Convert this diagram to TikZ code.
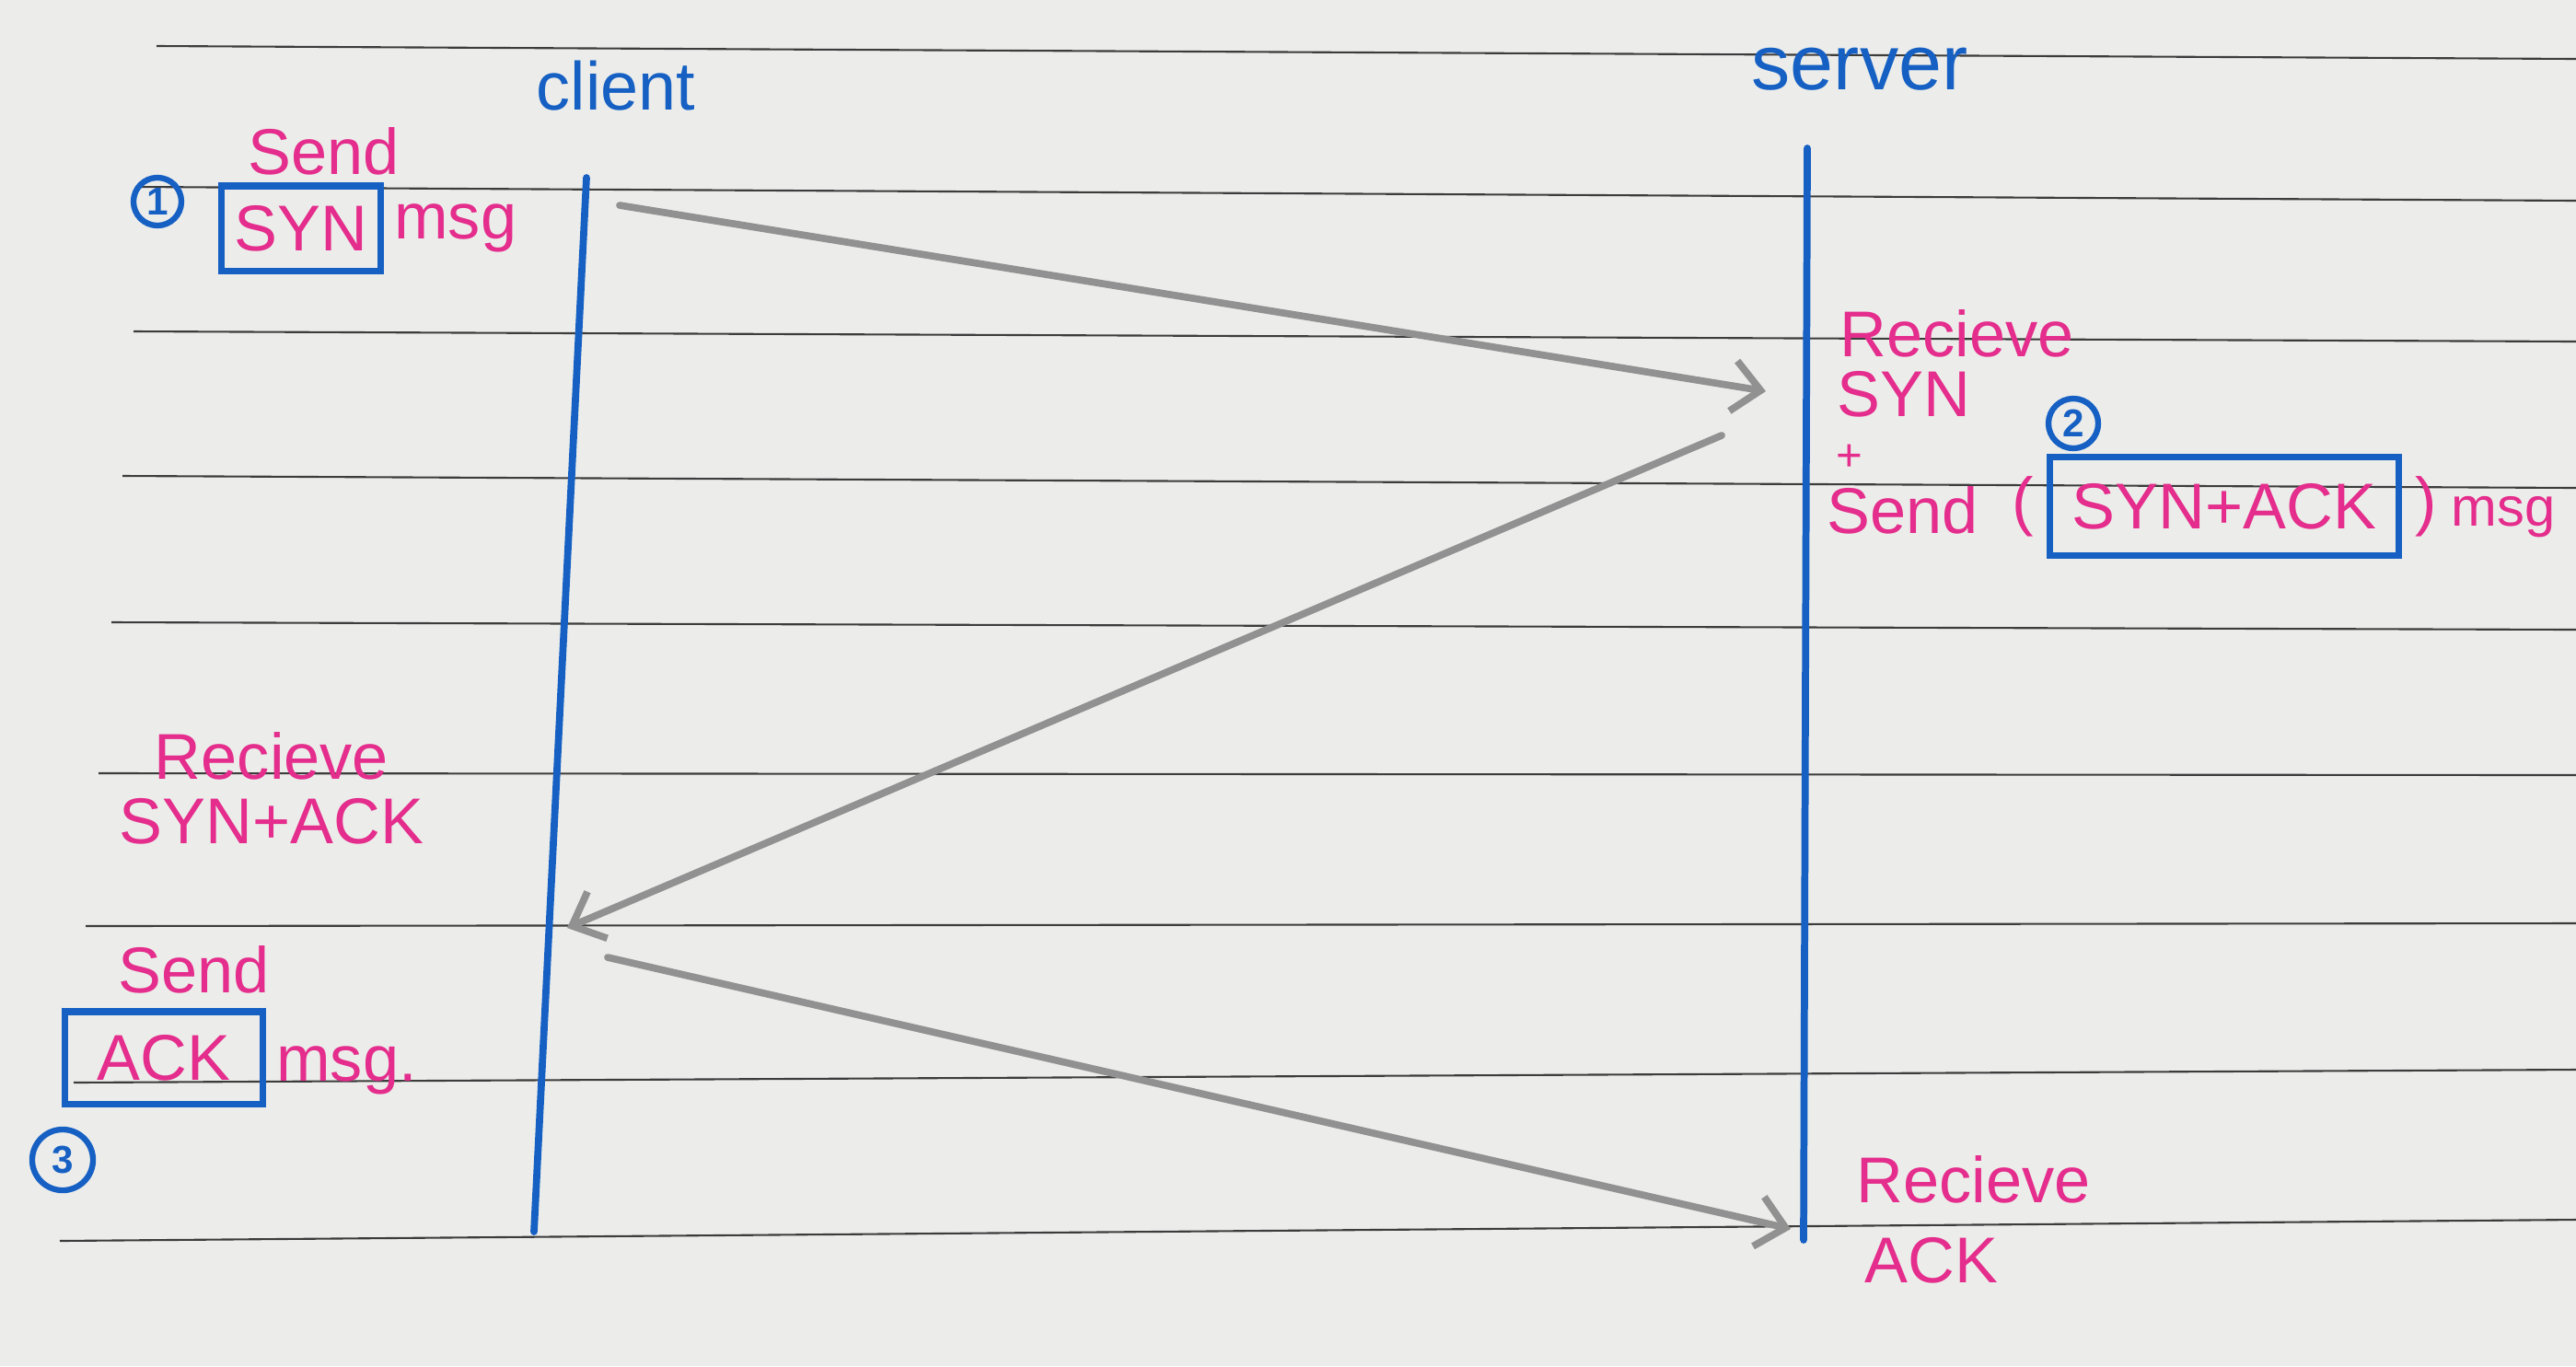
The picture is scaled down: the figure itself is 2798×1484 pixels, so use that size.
\documentclass[tikz,border=0pt]{standalone}
\usepackage{fontspec}
\setmainfont{Liberation Sans}
\usetikzlibrary{arrows.meta,positioning}

\definecolor{paper}{RGB}{236,237,234}
\definecolor{inkpink}{RGB}{228,45,140}
\definecolor{inkblue}{RGB}{22,96,196}
\definecolor{pencil}{RGB}{145,145,145}
\definecolor{ruleline}{RGB}{60,60,60}

\begin{document}
\begin{tikzpicture}[
            x=0.01cm, y=-0.01cm,
            >={Straight Barb[length=3mm,width=5.5mm]},
            ruled/.style={draw=ruleline, line width=0.6pt},
            lifeline/.style={draw=inkblue, line width=2.2pt, line cap=round},
            msgarrow/.style={->, draw=pencil, line width=2.2pt, line cap=round},
            who/.style={font=\fontsize{21}{25}\selectfont, text=inkblue, inner sep=0pt},
            note/.style={font=\fontsize{20}{24}\selectfont, text=inkpink, inner sep=0pt},
            msgbox/.style={note, draw=inkblue, line width=2pt, inner sep=0pt},
            stepnum/.style={circle, draw=inkblue, line width=1.8pt, text=inkblue, inner sep=0pt,
                            font=\bfseries\fontsize{12}{14}\selectfont}
        ]
            % paper and ruling
            \fill[paper] (0,0) rectangle (2798,1484);
            \useasboundingbox (0,0) rectangle (2798,1484);
            \foreach \xa/\ya/\yb in {170/50/64, 147/203/218, 145/360/371, 133/517/530,
                                     121/676/684, 107/840/842, 93/1006/1003, 80/1176/1162, 65/1348/1325}
                \draw[ruled] (\xa,\ya) -- (2798,\yb);

            % hosts
            \node[who] (client) at (669,93) {client};
            \node[who, font=\fontsize{24}{28}\selectfont] (server) at (2020,75) {server};

            \coordinate (c-top) at (637,193);
            \coordinate (c-bot) at (580,1338);
            \coordinate (s-top) at (1963,161);
            \coordinate (s-bot) at (1959,1347);
            \draw[lifeline] (c-top) -- (c-bot);
            \draw[lifeline] (s-top) -- (s-bot);

            % step 1: client sends SYN
            \node[note] (send1) at (352,164) {Send};
            \node[msgbox, minimum width=1.73cm, minimum height=0.92cm] (synbox) at (327,248) {SYN};
            \node[note, right=3pt of synbox] (msg1) {msg};
            \node[stepnum, minimum size=5.2mm] (one) at (171,219) {1};

            % step 2: server receives SYN, sends SYN+ACK
            \node[note, anchor=west] (recv1) at (1998,362) {Recieve};
            \node[note, anchor=west] (syn2) at (1995,428) {SYN};
            \node[note, anchor=west, font=\fontsize{14}{16}\selectfont] (plus) at (1994,497) {+};
            \node[note, anchor=west] (send2) at (1984,554) {Send};
            \node[msgbox, minimum width=3.78cm, minimum height=1.07cm] (synackbox) at (2416,550) {SYN+ACK};
            \node[note, left=4pt of synackbox] (lpar) {(};
            \node[note, right=4pt of synackbox] (rpar) {)};
            \node[note, anchor=west, font=\fontsize{17}{20}\selectfont] (msg2) at (2662,562) {msg};
            \node[stepnum, minimum size=5.4mm] (two) at (2252,460) {2};

            % step 3: client receives SYN+ACK, sends ACK
            \node[note] (recv2) at (295,821) {Recieve};
            \node[note] (synack3) at (295,892) {SYN+ACK};
            \node[note] (send3) at (211,1053) {Send};
            \node[msgbox, minimum width=2.15cm, minimum height=1.0cm] (ackbox) at (178,1149) {ACK};
            \node[note, right=3pt of ackbox, yshift=-4pt] (msg3) {msg.};
            \node[stepnum, minimum size=6.6mm] (three) at (68,1260) {3};

            % server receives ACK
            \node[note, anchor=west] (recv3) at (2016,1281) {Recieve};
            \node[note, anchor=west] (ack4) at (2025,1369) {ACK};

            % messages
            \coordinate (syn-out) at (673,223);
            \coordinate (syn-in) at (1918,425);
            \coordinate (synack-out) at (1870,473);
            \coordinate (synack-in) at (616,1008);
            \coordinate (ack-out) at (660,1040);
            \coordinate (ack-in) at (1945,1335);
            \draw[msgarrow] (syn-out) -- (syn-in);
            \draw[msgarrow] (synack-out) -- (synack-in);
            \draw[msgarrow] (ack-out) -- (ack-in);
        \end{tikzpicture}
\end{document}
